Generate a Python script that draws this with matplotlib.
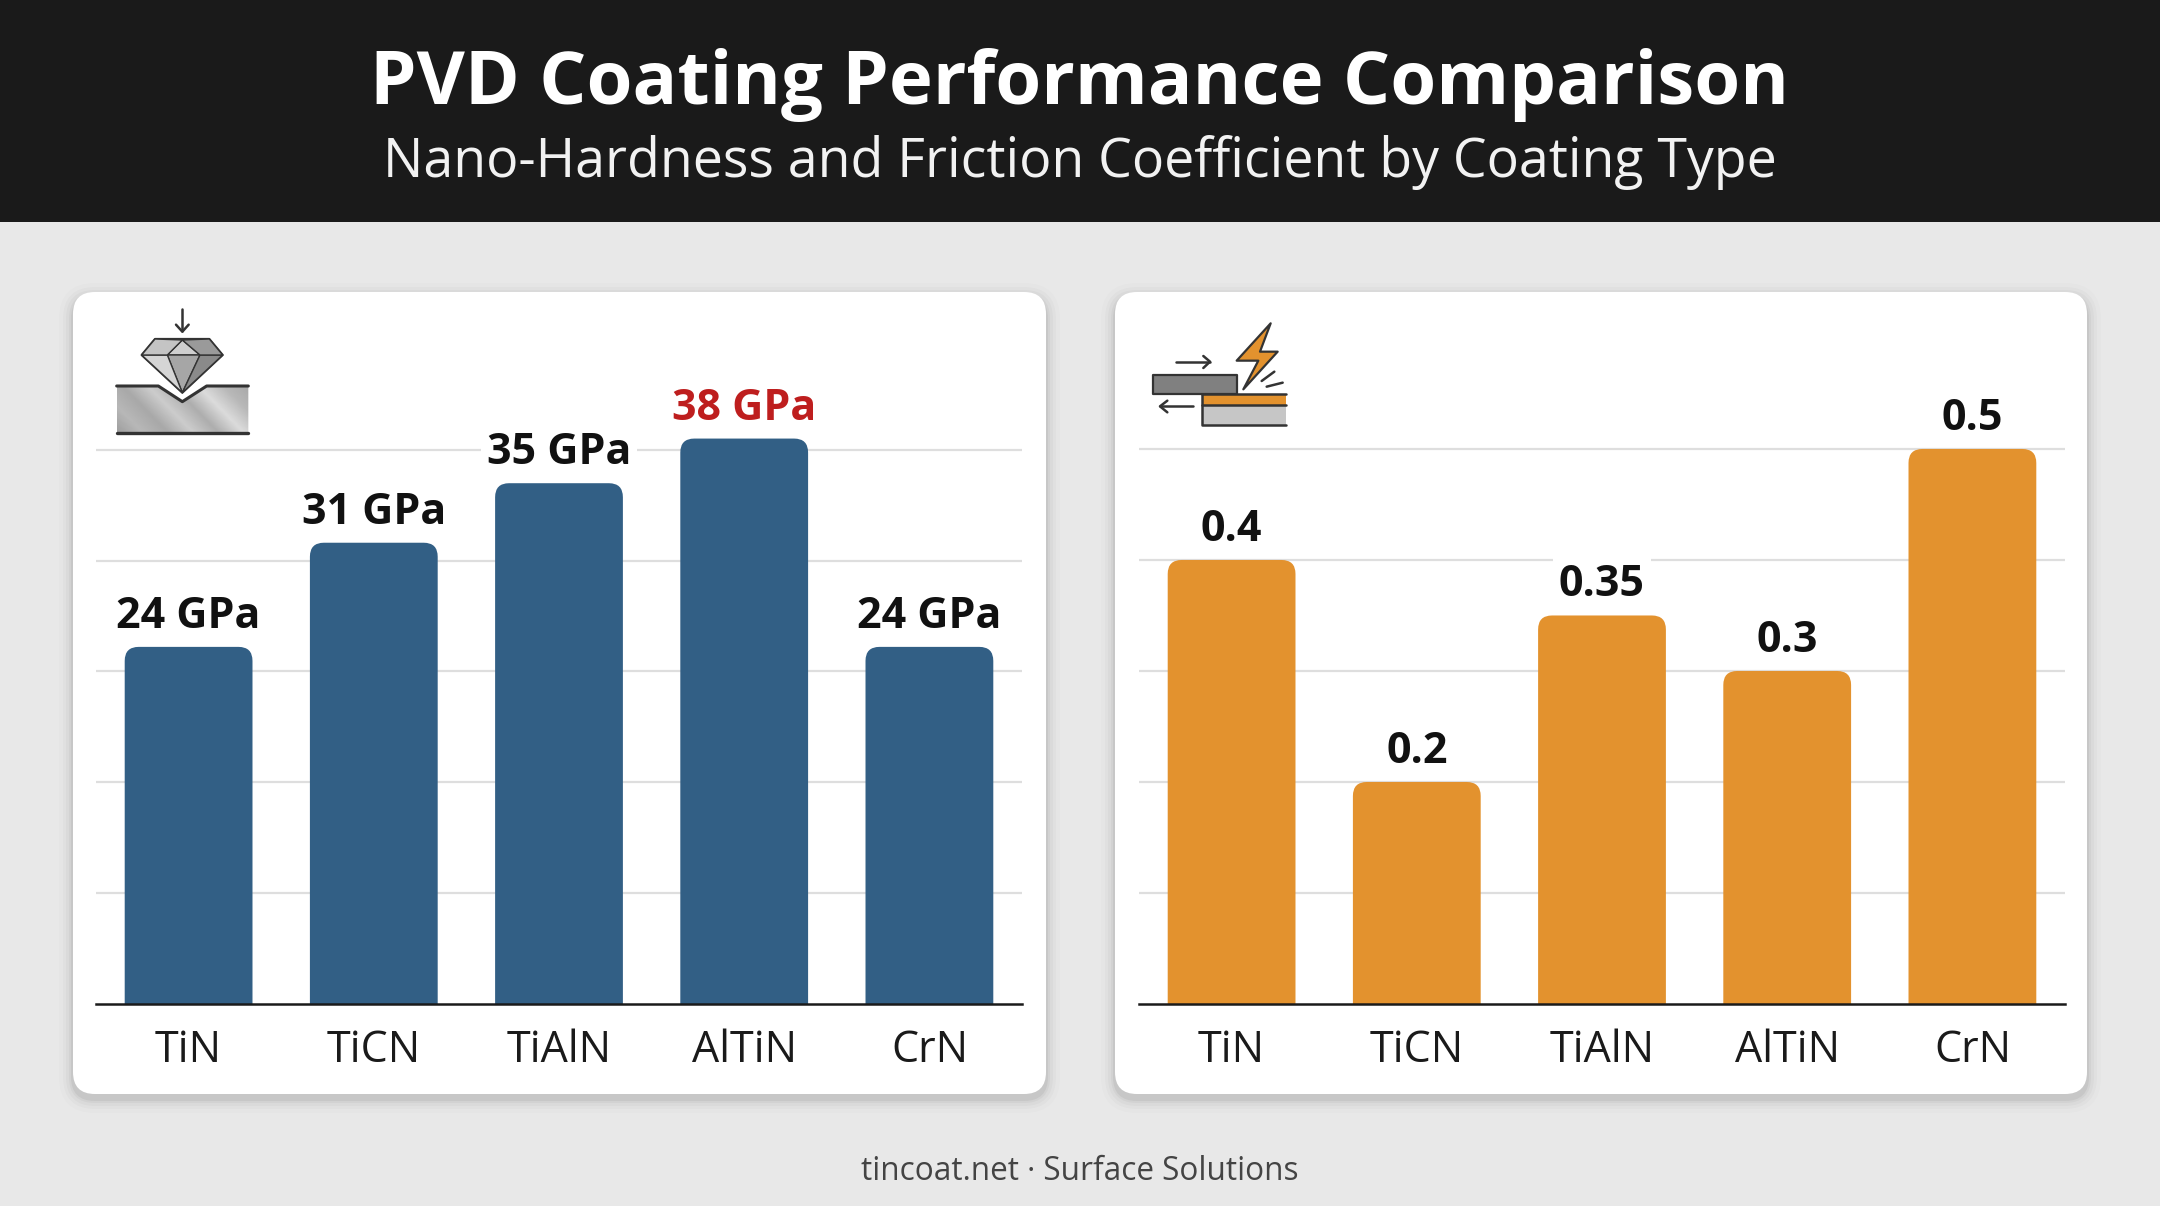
import numpy as np
import matplotlib
matplotlib.use('Agg')
import matplotlib.pyplot as plt
from matplotlib.patches import FancyBboxPatch, PathPatch, Polygon, Rectangle
from matplotlib.path import Path

plt.rcParams['font.family'] = ['Open Sans', 'DejaVu Sans']

# data
coatings = ['TiN', 'TiCN', 'TiAlN', 'AlTiN', 'CrN']
hardness = [24, 31, 35, 38, 24]
friction = [0.4, 0.2, 0.35, 0.3, 0.5]
hardness_labels = ['24 GPa', '31 GPa', '35 GPa', '38 GPa', '24 GPa']
friction_labels = ['0.4', '0.2', '0.35', '0.3', '0.5']
hardness_grid = [7.45, 14.9, 22.35, 29.8, 37.25]
friction_grid = [0.1, 0.2, 0.3, 0.4, 0.5]

W, H = 2160, 1206
BLUE = '#325F85'
ORANGE = '#E3922E'
RED = '#BE1E1E'
DARK = '#333333'

fig = plt.figure(figsize=(W / 100, H / 100), dpi=100, facecolor='#E8E8E8')

# pixel-coordinate background layer
bg = fig.add_axes([0, 0, 1, 1], zorder=0)
bg.set_xlim(0, W)
bg.set_ylim(H, 0)
bg.axis('off')

bg.add_patch(Rectangle((0, 0), W, 222, color='#1A1A1A', lw=0))
bg.text(W / 2, 85, 'PVD Coating Performance Comparison', color='white',
        fontsize=53.5, fontweight='bold', ha='center', va='center')
bg.text(W / 2, 163, 'Nano-Hardness and Friction Coefficient by Coating Type',
        color='#F2F2F2', fontsize=38.65, ha='center', va='center')
bg.text(W / 2, 1172, 'tincoat.net · Surface Solutions', color='#444444',
        fontsize=22.7, ha='center', va='center')


def card(x0, x1, y0=292, y1=1094):
    r = 22
    # soft shadow
    for grow, a in [(14, 0.012), (10, 0.018), (7, 0.025), (4, 0.035), (2, 0.05)]:
        bg.add_patch(FancyBboxPatch((x0 + r - grow, y0 + r + 5 - grow),
                                    x1 - x0 - 2 * r + 2 * grow, y1 - y0 - 2 * r + 2 * grow,
                                    boxstyle=f'round,pad={r},rounding_size={r + grow}',
                                    fc='black', ec='none', alpha=a))
    bg.add_patch(FancyBboxPatch((x0 + r, y0 + r), x1 - x0 - 2 * r, y1 - y0 - 2 * r,
                                boxstyle=f'round,pad={r},rounding_size={r}',
                                fc='white', ec='none'))


card(73, 1046)
card(1115, 2087)


def rounded_bars(ax, xs, values, width, color, radius_px=14):
    # bars with only the top corners rounded, radius kept round on screen
    x_px = ax.get_window_extent().width / (ax.get_xlim()[1] - ax.get_xlim()[0])
    y_px = ax.get_window_extent().height / (ax.get_ylim()[1] - ax.get_ylim()[0])
    rx, ry = radius_px / x_px, radius_px / y_px
    for x, v in zip(xs, values):
        l, r = x - width / 2, x + width / 2
        verts = [(l, 0), (l, v - ry), (l, v), (l + rx, v), (r - rx, v), (r, v), (r, v - ry), (r, 0), (l, 0)]
        codes = [Path.MOVETO, Path.LINETO, Path.CURVE3, Path.CURVE3, Path.LINETO,
                 Path.CURVE3, Path.CURVE3, Path.LINETO, Path.CLOSEPOLY]
        ax.add_patch(PathPatch(Path(verts, codes), fc=color, ec='none', zorder=3))


def panel(x0, x1, values, labels, grid, ymax, color, label_colors):
    ax = fig.add_axes([x0 / W, 1 - 1004 / H, (x1 - x0) / W, (1004 - 292) / H], zorder=2)
    ax.patch.set_alpha(0)
    ax.set_xlim(-0.5, 4.5)
    ax.set_ylim(0, ymax)
    xs = np.arange(len(coatings))
    ax.set_yticks(grid)
    ax.yaxis.grid(True, color='#DEDEDE', lw=1.6, zorder=1)
    ax.set_axisbelow(True)
    ax.tick_params(axis='y', length=0, labelleft=False)
    ax.set_xticks(xs, coatings, fontsize=31, color='#1A1A1A')
    ax.tick_params(axis='x', length=0, pad=18)
    for s in ['top', 'left', 'right']:
        ax.spines[s].set_visible(False)
    ax.spines['bottom'].set_color('#1A1A1A')
    ax.spines['bottom'].set_linewidth(1.8)
    ax.spines['bottom'].set_zorder(5)
    rounded_bars(ax, xs, values, 0.69, color)
    for x, v, t, c in zip(xs, values, labels, label_colors):
        ax.annotate(t, (x, v), xytext=(0, 22), textcoords='offset points', ha='center', va='center',
                    fontsize=31, fontweight='bold', color=c, zorder=4,
                    bbox=dict(fc='white', ec='none', pad=4))
    return ax


panel(96, 1022, hardness, hardness_labels, hardness_grid, 47.85, BLUE,
      ['#111111', '#111111', '#111111', RED, '#111111'])
panel(1139, 2065, friction, friction_labels, friction_grid, 0.6414, ORANGE, ['#111111'] * 5)


# icons, coordinates taken from the 3x crops of the reference
def z1(x, y):
    return 80 + x / 3, 290 + y / 3


def z2(x, y):
    return 1130 + x / 3, 290 + y / 3


def poly(pts, conv, fc, ec=DARK, lw=1.6, z=3):
    p = Polygon([conv(*q) for q in pts], closed=True, fc=fc, ec=ec, lw=lw, zorder=z, joinstyle='round')
    bg.add_patch(p)
    return p


def line(pts, conv, lw=1.8, color=DARK):
    xy = np.array([conv(*q) for q in pts])
    bg.plot(xy[:, 0], xy[:, 1], color=color, lw=lw, solid_capstyle='round', solid_joinstyle='round', zorder=4)


# indentation block with brushed metal gradient
block_pts = [(110, 288), (235, 288), (307, 335), (380, 288), (505, 288), (505, 430), (110, 430)]
block = poly(block_pts, z1, 'none', ec='none', lw=0)
shade = [0.62, 0.72, 0.66, 0.80, 0.68, 0.86, 0.72, 0.66]
xa, ya = z1(110, 288)
xb, yb = z1(505, 430)
yy, xx = np.mgrid[0:1:40j, 0:1:120j]
metal = np.interp(xx + (1 - yy) * 0.35, np.linspace(0, 1.35, 8), shade)
im = bg.imshow(metal, extent=(xa, xb, yb, ya), cmap='gray', vmin=0, vmax=1, aspect='auto', zorder=2)
im.set_clip_path(block)
bg.set_xlim(0, W)
bg.set_ylim(H, 0)
line([(110, 288), (235, 288), (307, 335), (380, 288), (505, 288)], z1, lw=2.2)
line([(110, 430), (505, 430)], z1, lw=2.4)

# diamond
poly([(225, 147), (388, 147), (428, 195), (307, 308), (185, 195)], z1, '#BDBDBD')
poly([(307, 150), (360, 195), (262, 195)], z1, '#CFCFCF', lw=1)
poly([(262, 195), (360, 195), (307, 308)], z1, '#A6A6A6', lw=1)
poly([(185, 195), (262, 195), (307, 308)], z1, '#D5D5D5', lw=1)
poly([(360, 195), (428, 195), (307, 308)], z1, '#8A8A8A', lw=1)
poly([(388, 147), (428, 195), (360, 195), (307, 150)], z1, '#9A9A9A', lw=1)
poly([(225, 147), (307, 150), (262, 195), (185, 195)], z1, '#C4C4C4', lw=1)
line([(307, 58), (307, 122)], z1)
line([(288, 104), (307, 125), (326, 104)], z1)

# sliding blocks and bolt
poly([(68, 255), (322, 255), (322, 312), (68, 312)], z2, '#808080')
poly([(215, 312), (468, 312), (468, 345), (215, 345)], z2, ORANGE, ec='none', lw=0)
poly([(215, 345), (468, 345), (468, 405), (215, 405)], z2, '#C6C6C6', ec='none', lw=0)
line([(215, 312), (215, 405), (468, 405)], z2, lw=1.8)
line([(215, 312), (468, 312)], z2, lw=1.8)
line([(215, 345), (468, 345)], z2, lw=1.8)
poly([(422, 100), (320, 212), (385, 212), (340, 298), (443, 185), (390, 185)], z2, ORANGE, lw=1.6)
line([(138, 215), (240, 215)], z2)
line([(220, 198), (240, 215), (220, 234)], z2)
line([(90, 349), (190, 349)], z2)
line([(112, 332), (90, 349), (112, 367)], z2)
line([(395, 273), (433, 245)], z2)
line([(410, 290), (458, 278)], z2)

fig.savefig('out.png', dpi=100, facecolor=fig.get_facecolor())
